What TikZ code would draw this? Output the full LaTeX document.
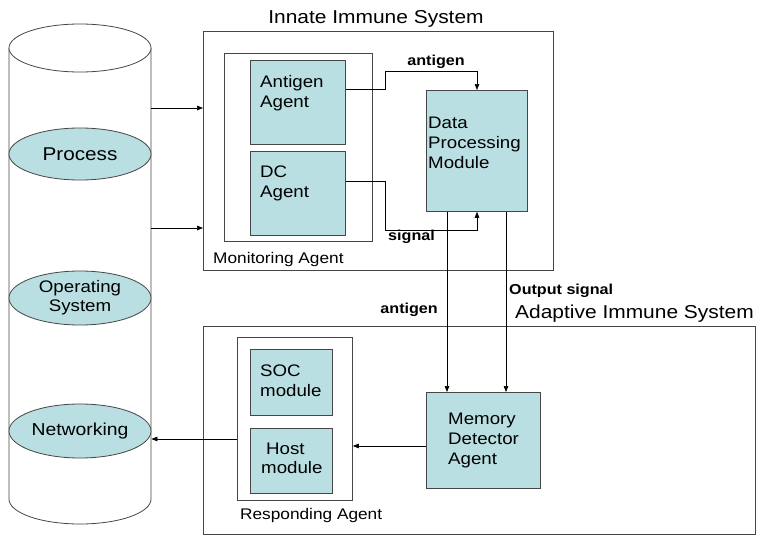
\documentclass[tikz,border=0pt]{standalone}
\usepackage{fontspec}
\setmainfont[FakeStretch=1.12]{Liberation Sans}
\usetikzlibrary{arrows.meta,shapes.geometric}
\definecolor{cellfill}{RGB}{185,223,226}
\definecolor{edgegray}{RGB}{70,70,70}
\begin{document}
\begin{tikzpicture}[x=1pt,y=-1pt,
  box/.style={draw=edgegray,line width=0.8pt,inner sep=0pt,anchor=north west},
  cell/.style={box,fill=cellfill},
  oval/.style={ellipse,draw=edgegray,line width=0.8pt,fill=cellfill,inner sep=0pt,
    minimum width=142pt,align=center,font=\fontsize{18.5}{19}\selectfont},
  conn/.style={draw=black,line width=0.7pt,-{Triangle[length=6pt,width=4.5pt]}},
  title/.style={inner sep=0pt,font=\fontsize{18.7}{22}\selectfont},
  % multi-line texts sit on the baseline of their last line
  boxtext/.style={inner sep=0pt,anchor=base west,align=left,font=\fontsize{16.7}{20}\selectfont},
  agenttext/.style={inner sep=0pt,anchor=base west,font=\fontsize{15.4}{18}\selectfont},
  tag/.style={inner sep=0pt,font=\fontsize{14.4}{17}\selectfont\bfseries}]
\useasboundingbox (0,0) rectangle (760,536);

% ---- host store (cylinder) ----
\fill[white] (9,48) -- (9,499) arc[start angle=180,end angle=360,x radius=71,y radius=-25]
  -- (151,48) -- cycle;
\draw[edgegray,line width=0.8pt] (9,48) -- (9,499)
  arc[start angle=180,end angle=360,x radius=71,y radius=-25] -- (151,48);
\draw[edgegray,line width=0.8pt,fill=white] (80,48) ellipse[x radius=71,y radius=24];
\coordinate (cylE1) at (151,108);
\coordinate (cylE2) at (151,228);

\node[oval,minimum height=52pt] (proc) at (80,154) {Process};
\node[oval,minimum height=54pt,font=\fontsize{16.7}{19}\selectfont] (os) at (80,298) {Operating\\System};
\node[oval,minimum height=54pt,font=\fontsize{17.3}{19}\selectfont] (net) at (80,431) {Networking};

% ---- innate immune system ----
\node[box,minimum width=350pt,minimum height=239pt] (innate) at (203,31) {};
\node[title,anchor=base] (innateT) at (376,23) {Innate Immune System};
\node[box,minimum width=148pt,minimum height=188pt] (mon) at (224,53) {};
\node[agenttext] (monT) at (213,263) {Monitoring Agent};
\node[cell,minimum width=95pt,minimum height=84pt] (ant) at (250,60) {};
\node[boxtext] (antT) at (260,107) {Antigen\\Agent};
\node[cell,minimum width=95pt,minimum height=84pt] (dc) at (250,151) {};
\node[boxtext] (dcT) at (260,197) {DC\\Agent};
\node[cell,minimum width=101pt,minimum height=121pt] (dpm) at (426,90) {};
\node[boxtext] (dpmT) at (428,168) {Data\\Processing\\Module};

% ---- adaptive immune system ----
\node[box,minimum width=552pt,minimum height=208pt] (adapt) at (203,326) {};
\node[title,anchor=base west] (adaptT) at (515,318) {Adaptive Immune System};
\node[box,minimum width=115pt,minimum height=163pt] (resp) at (237,337) {};
\node[agenttext] (respT) at (240,519) {Responding Agent};
\node[cell,minimum width=82pt,minimum height=66pt] (soc) at (250,349) {};
\node[boxtext] (socT) at (260,396) {SOC\\module};
\node[cell,minimum width=82pt,minimum height=65pt] (host) at (250,428) {};
\node[boxtext] (hostT1) at (266,454) {Host};
\node[boxtext] (hostT2) at (261,473) {module};
\node[cell,minimum width=114pt,minimum height=96pt] (mda) at (426,392) {};
\node[boxtext] (mdaT) at (448,464) {Memory\\Detector\\Agent};

% ---- connectors ----
\draw[conn] (cylE1) -- (innate.west|-cylE1);
\draw[conn] (cylE2) -- (innate.west|-cylE2);

\coordinate (antOut) at (345,89);
\draw[conn] (ant.east|-antOut) -- (385,89) -- (385,71) -- (477,71) -- (dpm.north-|477,0);
\node[tag,anchor=base] (tagAnt) at (436,65) {antigen};

\coordinate (dcOut) at (345,181);
\draw[conn] (dc.east|-dcOut) -- (385,181) -- (385,230) -- (477,230) -- (dpm.south-|477,0);
\node[tag,anchor=base west] (tagSig) at (388,240) {signal};

\draw[conn] (dpm.south-|447,0) -- (mda.north-|447,0);
\draw[conn] (dpm.south-|506,0) -- (mda.north-|506,0);
\node[tag,anchor=base east] (tagAnt2) at (438,313) {antigen};
\node[tag,anchor=base west] (tagOut) at (509,294) {Output signal};

\coordinate (mdaOut) at (426,446);
\draw[conn] (mda.west|-mdaOut) -- (resp.east|-mdaOut);
\coordinate (respOut) at (237,439);
\draw[conn] (resp.west|-respOut) -- (net.east|-respOut);
\end{tikzpicture}
\end{document}
